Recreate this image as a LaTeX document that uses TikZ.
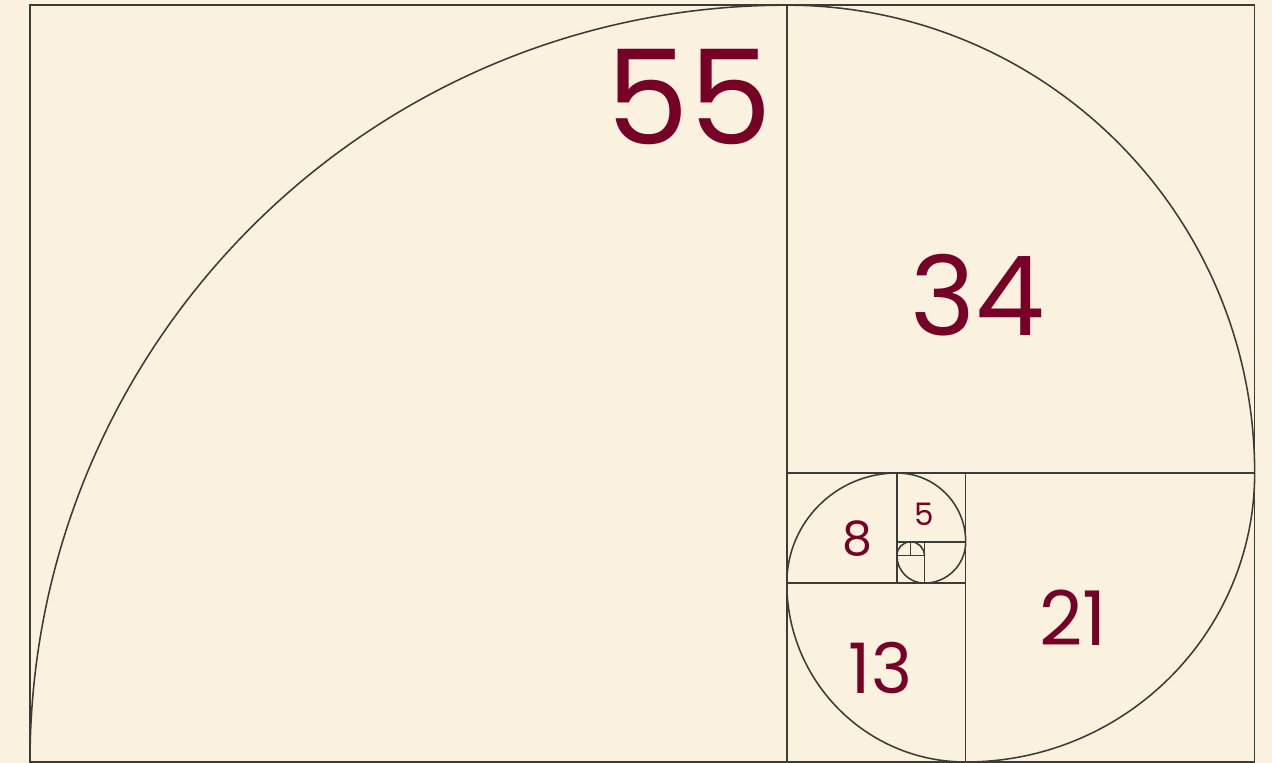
\documentclass[tikz,border=0pt]{standalone}
\usepackage{fontspec}
\newfontfamily\numfont{Poppins}
\usepackage{tikz}
\definecolor{fibcream}{RGB}{250,241,222}
\definecolor{fibwine}{RGB}{118,0,38}
\definecolor{fibline}{RGB}{60,60,55}

\begin{document}
\begin{tikzpicture}[x=0.25cm,y=0.25cm,
                    sq/.style={draw=fibline,line width=0.8pt},
                    spiral/.style={draw=fibline,line width=0.8pt},
                    num/.style={text=fibwine,inner sep=0pt,anchor=center}]
  \fill[fibcream] (-2.18,-0.072) rectangle (90.26,55.376);
  \useasboundingbox (-2.18,-0.072) rectangle (90.26,55.376);
  % squares: x/y/side
  \foreach \x/\y/\s in {0/0/55,55/21/34,68/0/21,55/0/13,55/13/8,
                        63/16/5,65/13/3,63/13/2,63/15/1,64/15/1}
    \draw[sq] (\x,\y) rectangle ++(\s,\s);
  % the spiral, one quarter arc per square
  \draw[spiral] (0,0) \foreach \r/\a in {55/180,34/90,21/0,13/-90,8/180,
                                        5/90,3/0,2/-90,1/180,1/90}
    {arc[start angle=\a,delta angle=-90,radius=\r]};
  % labels
  \node[num,font=\numfont\fontsize{68}{68}\selectfont] (n55) at (47.9,48.3) {55};
  \node[num,font=\numfont\fontsize{57}{57}\selectfont] (n34) at (68.9,33.9) {34};
  \node[num,font=\numfont\fontsize{39}{39}\selectfont] (n21) at (75.8,10.5) {21};
  \node[num,font=\numfont\fontsize{36}{36}\selectfont] (n13) at (61.8,6.8) {13};
  \node[num,font=\numfont\fontsize{24.5}{24.5}\selectfont] (n8) at (60.1,16.2) {8};
  \node[num,font=\numfont\fontsize{16}{16}\selectfont] (n5) at (65.0,18.0) {5};
\end{tikzpicture}
\end{document}
